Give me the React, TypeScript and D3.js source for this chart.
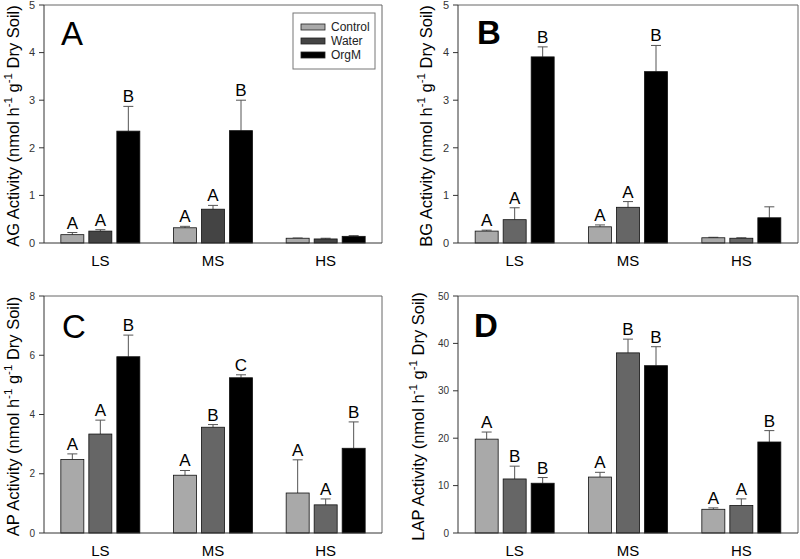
import React from "react";
import * as d3 from "d3";

const groups = ["LS", "MS", "HS"];
const series = ["Control", "Water", "OrgM"];

// Panel A: AG activity
const agControl = [0.175, 0.32, 0.1];
const agWater = [0.25, 0.71, 0.085];
const agOrgM = [2.35, 2.36, 0.14];
const agControlErr = [0.045, 0.03, 0.005];
const agWaterErr = [0.03, 0.08, 0.015];
const agOrgMErr = [0.52, 0.64, 0.015];
const agLetters = [["A", "A", "B"], ["A", "A", "B"], ["", "", ""]];
const agTicks = [0, 1, 2, 3, 4, 5];

// Panel B: BG activity
const bgControl = [0.25, 0.34, 0.11];
const bgWater = [0.49, 0.75, 0.1];
const bgOrgM = [3.91, 3.6, 0.53];
const bgControlErr = [0.02, 0.04, 0.01];
const bgWaterErr = [0.25, 0.12, 0.01];
const bgOrgMErr = [0.21, 0.55, 0.23];
const bgLetters = [["A", "A", "B"], ["A", "A", "B"], ["", "", ""]];
const bgTicks = [0, 1, 2, 3, 4, 5];

// Panel C: AP activity
const apControl = [2.48, 1.95, 1.35];
const apWater = [3.34, 3.57, 0.95];
const apOrgM = [5.95, 5.24, 2.86];
const apControlErr = [0.19, 0.16, 1.12];
const apWaterErr = [0.47, 0.09, 0.2];
const apOrgMErr = [0.73, 0.1, 0.89];
const apLetters = [["A", "A", "B"], ["A", "B", "C"], ["A", "A", "B"]];
const apTicks = [0, 2, 4, 6, 8];

// Panel D: LAP activity
const lapControl = [19.8, 11.8, 5.0];
const lapWater = [11.4, 38.0, 5.8];
const lapOrgM = [10.5, 35.3, 19.2];
const lapControlErr = [1.5, 1.0, 0.3];
const lapWaterErr = [2.7, 2.9, 1.4];
const lapOrgMErr = [1.2, 4.0, 2.4];
const lapLetters = [["A", "B", "B"], ["A", "B", "B"], ["A", "A", "B"]];
const lapTicks = [0, 10, 20, 30, 40, 50];

const FONT = "'Liberation Sans', Arial, sans-serif";

type PanelProps = {
  x0: number; x1: number; y0: number; y1: number;
  means: number[][]; errs: number[][]; letters: string[][];
  ticks: number[]; enzyme: string; tag: string; tagBold: boolean;
  tagX: number; tagY: number; labelX: number; tickFont: number;
  colors: string[]; legend?: boolean;
};

function Panel(p: PanelProps) {
  const ymax = p.ticks[p.ticks.length - 1];
  const y = d3.scaleLinear().domain([0, ymax]).range([p.y1, p.y0]);
  const gx = d3.scaleBand().domain(groups).range([p.x0, p.x1]).paddingInner(0).paddingOuter(0);
  const sx = d3.scaleBand().domain(series).range([-39.5, 39.5]).paddingInner(5 / 28).paddingOuter(0);
  const bw = sx.bandwidth();
  const cy = (p.y0 + p.y1) / 2 + 2;
  return (
    <g fontFamily={FONT}>
      {/* frame */}
      <line x1={p.x0} x2={p.x1} y1={p.y0} y2={p.y0} stroke="#666" strokeWidth={1} />
      <line x1={p.x1} x2={p.x1} y1={p.y0} y2={p.y1} stroke="#666" strokeWidth={1} />
      {/* bars */}
      {groups.map((g, gi) => {
        const c = (gx(g) as number) + gx.bandwidth() / 2;
        return series.map((s, si) => {
          const m = p.means[si][gi];
          const e = p.errs[si][gi];
          const bx = c + (sx(s) as number);
          const mid = bx + bw / 2;
          const top = y(m + e);
          const lt = p.letters[gi][si];
          return (
            <g key={g + s}>
              <line x1={mid} x2={mid} y1={y(m)} y2={top} stroke="#555" strokeWidth={1} />
              <line x1={mid - 5} x2={mid + 5} y1={top} y2={top} stroke="#555" strokeWidth={1} />
              <rect x={bx} y={y(m)} width={bw} height={y(0) - y(m)} fill={p.colors[si]} stroke="#111" strokeWidth={0.8} />
              {lt && (
                <text x={mid} y={top - 4} textAnchor="middle" fontSize={17} fill="#000">{lt}</text>
              )}
            </g>
          );
        });
      })}
      {/* axes */}
      <line x1={p.x0} x2={p.x1} y1={p.y1} y2={p.y1} stroke="#333" strokeWidth={1} />
      <line x1={p.x0} x2={p.x0} y1={p.y0} y2={p.y1} stroke="#333" strokeWidth={1} />
      {p.ticks.map((t) => (
        <g key={t}>
          <line x1={p.x0 - 5} x2={p.x0} y1={y(t)} y2={y(t)} stroke="#333" strokeWidth={1} />
          <text x={p.x0 - 9} y={y(t)} dy="0.35em" textAnchor="end" fontSize={p.tickFont} fill="#333">{t}</text>
        </g>
      ))}
      {groups.map((g) => (
        <text key={g} x={(gx(g) as number) + gx.bandwidth() / 2} y={p.y1 + 23} textAnchor="middle" fontSize={15} fill="#000">{g}</text>
      ))}
      {/* y label */}
      <text transform={`translate(${p.labelX},${cy}) rotate(-90)`} textAnchor="middle" fontSize={16.5} fill="#000" dy="0.35em">
        {p.enzyme} Activity (nmol h
        <tspan fontSize={11.5} dy={-7}>-1</tspan>
        <tspan dy={7}>{" g"}</tspan>
        <tspan fontSize={11.5} dy={-7}>-1</tspan>
        <tspan dy={7}>{" Dry Soil)"}</tspan>
      </text>
      <text x={p.tagX} y={p.tagY} fontSize={33} fontWeight={p.tagBold ? "bold" : "normal"} fill="#000">{p.tag}</text>
      {p.legend && (
        <g>
          <rect x={293} y={13} width={82} height={56} fill="#fff" stroke="#777" strokeWidth={1} />
          {series.map((s, i) => (
            <g key={s}>
              <rect x={301} y={24 + i * 14} width={24} height={6} fill={p.colors[i]} stroke="#222" strokeWidth={0.8} />
              <text x={331} y={27 + i * 14} dy="0.35em" fontSize={12} fill="#222">{s}</text>
            </g>
          ))}
        </g>
      )}
    </g>
  );
}

export default function App() {
  return (
    <svg width={800} height={559} style={{ position: "absolute", left: 0, top: 0, background: "#fff" }}>
      <rect width={800} height={559} fill="#fff" />
      <Panel x0={44} x1={382} y0={5} y1={243}
        means={[agControl, agWater, agOrgM]} errs={[agControlErr, agWaterErr, agOrgMErr]}
        letters={agLetters} ticks={agTicks} enzyme="AG" tag="A" tagBold={false}
        tagX={61} tagY={45} labelX={13} tickFont={11}
        colors={["#a9a9a9", "#444", "#000"]} legend />
      <Panel x0={458} x1={798} y0={5} y1={243}
        means={[bgControl, bgWater, bgOrgM]} errs={[bgControlErr, bgWaterErr, bgOrgMErr]}
        letters={bgLetters} ticks={bgTicks} enzyme="BG" tag="B" tagBold={true}
        tagX={477} tagY={44} labelX={426} tickFont={11}
        colors={["#a9a9a9", "#666", "#000"]} />
      <Panel x0={44} x1={382} y0={296} y1={533}
        means={[apControl, apWater, apOrgM]} errs={[apControlErr, apWaterErr, apOrgMErr]}
        letters={apLetters} ticks={apTicks} enzyme="AP" tag="C" tagBold={false}
        tagX={62} tagY={338} labelX={13} tickFont={10}
        colors={["#a9a9a9", "#666", "#000"]} />
      <Panel x0={458} x1={798} y0={296} y1={533}
        means={[lapControl, lapWater, lapOrgM]} errs={[lapControlErr, lapWaterErr, lapOrgMErr]}
        letters={lapLetters} ticks={lapTicks} enzyme="LAP" tag="D" tagBold={true}
        tagX={474} tagY={337} labelX={418} tickFont={10}
        colors={["#a9a9a9", "#666", "#000"]} />
    </svg>
  );
}
